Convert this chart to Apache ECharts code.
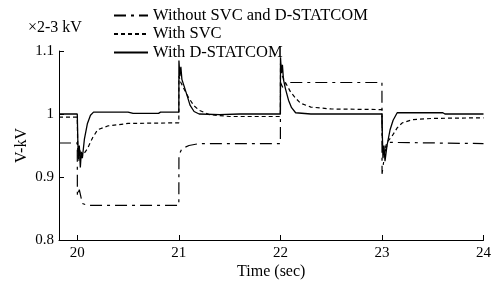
<!DOCTYPE html>
<html>
<head>
<meta charset="utf-8">
<script src="https://cdn.jsdelivr.net/npm/echarts@6/dist/echarts.min.js"></script>
<style>
  html, body { margin: 0; padding: 0; background: #fff; }
  #chart { width: 494px; height: 285px; }
</style>
</head>
<body>
<div id="chart"></div>
<script>
// x ticks
const timeTicks = [20, 21, 22, 23, 24]

// Without SVC and D-STATCOM
const tNone = [19.82, 20.0, 20.001, 20.02, 20.05, 20.1, 21.0, 21.001, 21.03, 21.1, 21.2, 22.0, 22.001, 22.03, 22.05, 23.0, 23.001, 23.03, 23.06, 24.0]
const vNone = [0.954, 0.954, 0.87, 0.88, 0.858, 0.855, 0.855, 0.935, 0.945, 0.95, 0.953, 0.953, 1.05, 1.04, 1.05, 1.05, 0.905, 0.94, 0.955, 0.953]

// With SVC
const tSvc = [19.82, 20.0, 20.005, 20.015, 20.025, 20.035, 20.05, 20.1, 20.15, 20.2, 20.3, 20.5, 21.0, 21.001, 21.02, 21.05, 21.1, 21.15, 21.2, 21.3, 21.5, 22.0, 22.001, 22.02, 22.05, 22.1, 22.15, 22.2, 22.3, 22.5, 23.0, 23.005, 23.015, 23.03, 23.05, 23.1, 23.15, 23.2, 23.3, 23.5, 24.0]
const vSvc = [0.995, 0.995, 0.94, 0.925, 0.945, 0.93, 0.932, 0.945, 0.962, 0.975, 0.981, 0.985, 0.986, 1.06, 1.05, 1.04, 1.025, 1.013, 1.006, 0.999, 0.996, 0.996, 1.08, 1.06, 1.05, 1.035, 1.025, 1.017, 1.011, 1.008, 1.007, 0.95, 0.935, 0.945, 0.955, 0.965, 0.978, 0.986, 0.991, 0.993, 0.994]

// With D-STATCOM
const tDst = [19.82, 20.0, 20.005, 20.01, 20.02, 20.03, 20.04, 20.05, 20.07, 20.1, 20.13, 20.16, 20.5, 20.55, 20.8, 20.82, 21.0, 21.001, 21.01, 21.02, 21.03, 21.05, 21.08, 21.11, 21.15, 21.2, 21.4, 21.6, 22.0, 22.001, 22.01, 22.02, 22.03, 22.05, 22.08, 22.11, 22.15, 22.3, 22.6, 23.0, 23.005, 23.01, 23.02, 23.03, 23.05, 23.08, 23.11, 23.15, 23.6, 23.62, 24.0]
const vDst = [1.0, 1.0, 0.96, 0.93, 0.95, 0.915, 0.94, 0.93, 0.96, 0.985, 0.998, 1.003, 1.003, 1.001, 1.001, 1.003, 1.003, 1.085, 1.06, 1.075, 1.055, 1.045, 1.03, 1.014, 1.004, 1.0, 0.999, 1.0, 1.0, 1.09, 1.065, 1.078, 1.055, 1.04, 1.022, 1.01, 1.002, 1.0, 1.0, 1.0, 0.96, 0.93, 0.95, 0.925, 0.95, 0.975, 0.99, 1.002, 1.002, 1.0, 1.0]

const zip = (t, v) => t.map((x, i) => [x, v[i]])

const font = 'Liberation Serif'
const chart = echarts.init(document.getElementById('chart'))
const option = {
  animation: false,
  grid: { left: 59, right: 2, top: 51, bottom: 45 },
  legend: {
    orient: 'vertical',
    left: 108,
    top: 2,
    itemWidth: 34,
    itemHeight: 12,
    itemGap: 1.5,
    itemStyle: { opacity: 0 },
    textStyle: { fontFamily: font, fontSize: 16.5, lineHeight: 17, color: '#000' },
    data: ['Without SVC and D-STATCOM', 'With SVC', 'With D-STATCOM']
  },
  graphic: [
    {
      type: 'text',
      left: 28,
      top: 20,
      style: { text: '×2-3 kV', fontFamily: font, fontSize: 16, fill: '#000' }
    }
  ],
  xAxis: {
    type: 'value',
    min: 19.82,
    max: 24,
    name: 'Time (sec)',
    nameLocation: 'middle',
    nameGap: 24,
    nameMoveOverlap: false,
    nameTextStyle: { fontFamily: font, fontSize: 16, color: '#000' },
    splitLine: { show: false },
    axisLine: { lineStyle: { color: '#000', width: 1 } },
    axisTick: { inside: true, length: 5, customValues: timeTicks, lineStyle: { color: '#000' } },
    axisLabel: { customValues: timeTicks, fontFamily: font, fontSize: 15, color: '#000', margin: 6 }
  },
  yAxis: {
    type: 'value',
    min: 0.8,
    max: 1.1,
    interval: 0.1,
    name: 'V-kV',
    nameLocation: 'middle',
    nameGap: 29,
    nameMoveOverlap: false,
    nameTextStyle: { fontFamily: font, fontSize: 16, color: '#000' },
    splitLine: { show: false },
    axisLine: { show: true, lineStyle: { color: '#000', width: 1 } },
    axisTick: { show: true, inside: true, length: 5, lineStyle: { color: '#000' } },
    axisLabel: { fontFamily: font, fontSize: 15, color: '#000', margin: 5 }
  },
  series: [
    {
      name: 'Without SVC and D-STATCOM',
      type: 'line',
      showSymbol: false,
      symbol: 'none',
      data: zip(tNone, vNone),
      lineStyle: { color: '#000', width: 1.2, type: [12, 5, 3, 5] },
      itemStyle: { color: '#000' }
    },
    {
      name: 'With SVC',
      type: 'line',
      showSymbol: false,
      symbol: 'none',
      data: zip(tSvc, vSvc),
      lineStyle: { color: '#000', width: 1.2, type: [4, 3] },
      itemStyle: { color: '#000' }
    },
    {
      name: 'With D-STATCOM',
      type: 'line',
      showSymbol: false,
      symbol: 'none',
      data: zip(tDst, vDst),
      lineStyle: { color: '#000', width: 1.3, type: 'solid' },
      itemStyle: { color: '#000' }
    }
  ]
}
chart.setOption(option)
</script>
</body>
</html>
